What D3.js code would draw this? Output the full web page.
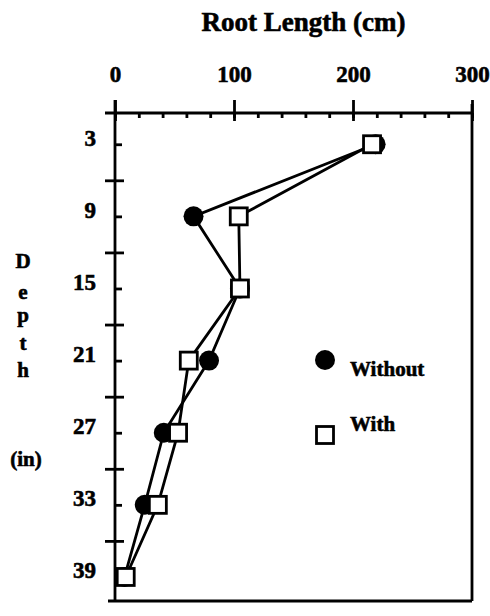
<!DOCTYPE html>
<html>
<head>
<meta charset="utf-8">
<script src="https://cdn.jsdelivr.net/npm/d3@7"></script>
<style>
  body { margin: 0; background: #fff; }
  text { font-family: "Liberation Serif", "Times New Roman", serif; font-weight: bold; fill: #000;
         stroke: #000; stroke-width: 0.6px; }
</style>
</head>
<body>
<svg id="chart" width="490" height="616"></svg>
<script>
// depth (in) and root length (cm)
const depths = [3, 9, 15, 21, 27, 33, 39];
const withoutVals = [219, 66, 105, 79, 41, 25, 8];
const withVals = [216, 104, 105, 62, 53, 36, 9];
const xTicks = [0, 100, 200, 300];
const depthLetters = ['D', 'e', 'p', 't', 'h'];
const legendItems = ['Without', 'With'];

const svg = d3.select('#chart');
const stroke = 2.8;

const x = d3.scaleLinear().domain([0, 300]).range([115, 472]);
const y = d3.scaleLinear().domain([0.4, 41]).range([113, 601]);
const [x0, x1] = x.range();
const [y0, y1] = y.range();

// top axis: majors crossing, minors pointing down
const topUp = d3.axisTop(x).tickValues(xTicks).tickSize(13).tickSizeOuter(0).tickPadding(18);
const topDown = d3.axisBottom(x).tickValues(d3.range(0, 301, 20)).tickSize(5).tickSizeOuter(0).tickFormat('');
const topMajDown = d3.axisBottom(x).tickValues(xTicks).tickSize(8).tickSizeOuter(0).tickFormat('');

const gTop = svg.append('g').attr('transform', `translate(0,${y0})`);
gTop.append('g').call(topUp);
gTop.append('g').call(topDown);
gTop.append('g').call(topMajDown);
gTop.selectAll('text').style('font-size', '23px').attr('dy', '0');

// left axis: labels + minor ticks at label depths, majors crossing
const leftLab = d3.axisLeft(y).tickValues(depths).tickSize(0).tickSizeOuter(0).tickPadding(19);
const leftMinor = d3.axisRight(y).tickValues(depths).tickSize(7).tickSizeOuter(0).tickFormat('');
const majors = d3.range(6, 37, 6);
const leftMajL = d3.axisLeft(y).tickValues(majors).tickSize(10).tickSizeOuter(0).tickFormat('');
const leftMajR = d3.axisRight(y).tickValues(majors).tickSize(9).tickSizeOuter(0).tickFormat('');

const gLeft = svg.append('g').attr('transform', `translate(${x0},0)`);
gLeft.append('g').call(leftLab);
gLeft.append('g').call(leftMinor);
gLeft.append('g').call(leftMajL);
gLeft.append('g').call(leftMajR);
gLeft.selectAll('text').style('font-size', '23px').attr('dy', '1');

svg.selectAll('.domain').remove();
svg.selectAll('.tick line').attr('stroke', '#000').attr('stroke-width', stroke);

// frame
const frame = svg.append('g').attr('stroke', '#000').attr('stroke-width', stroke).attr('fill', 'none');
frame.append('line').attr('x1', x0 - 10).attr('x2', x1).attr('y1', y0).attr('y2', y0);
frame.append('line').attr('x1', x0).attr('x2', x0).attr('y1', y0 - 13).attr('y2', y1);
frame.append('line').attr('x1', x1).attr('x2', x1).attr('y1', y0 - 9).attr('y2', y1);
frame.append('line').attr('x1', x0 - 7).attr('x2', x1).attr('y1', y1).attr('y2', y1);

// titles
svg.append('text').attr('x', (x0 + x1) / 2 + 10).attr('y', 31)
  .attr('text-anchor', 'middle').style('font-size', '27px').text('Root Length (cm)');

const letterY = [268, 299, 322, 350, 377];
svg.selectAll('.depthLetter').data(depthLetters).enter().append('text')
  .attr('class', 'depthLetter')
  .attr('x', 23).attr('y', (d, i) => letterY[i])
  .attr('text-anchor', 'middle').style('font-size', '21px').text(d => d);
svg.append('text').attr('x', 26).attr('y', 466)
  .attr('text-anchor', 'middle').style('font-size', '21px').text('(in)');

// lines
const rowsWithout = depths.map((d, i) => ({depth: d, len: withoutVals[i]}));
const rowsWith = depths.map((d, i) => ({depth: d, len: withVals[i]}));
const line = d3.line().x(d => x(d.len)).y(d => y(d.depth));

[rowsWithout, rowsWith].forEach(rows => {
  svg.append('path').datum(rows).attr('d', line)
    .attr('fill', 'none').attr('stroke', '#000').attr('stroke-width', stroke);
});

svg.selectAll('.dotWithout').data(rowsWithout).enter().append('circle')
  .attr('class', 'dotWithout')
  .attr('cx', d => x(d.len)).attr('cy', d => y(d.depth)).attr('r', 10)
  .attr('fill', '#000');

const sq = 17;
svg.selectAll('.dotWith').data(rowsWith).enter().append('rect')
  .attr('class', 'dotWith')
  .attr('x', d => x(d.len) - sq / 2).attr('y', d => y(d.depth) - sq / 2)
  .attr('width', sq).attr('height', sq)
  .attr('fill', '#fff').attr('stroke', '#000').attr('stroke-width', stroke);

// legend
const lg = svg.append('g');
lg.append('circle').attr('cx', 325).attr('cy', 360).attr('r', 10).attr('fill', '#000');
lg.append('text').attr('x', 350).attr('y', 376).style('font-size', '21px').text(legendItems[0]);
lg.append('rect').attr('x', 325 - sq / 2).attr('y', 435 - sq / 2).attr('width', sq).attr('height', sq)
  .attr('fill', '#fff').attr('stroke', '#000').attr('stroke-width', stroke);
lg.append('text').attr('x', 350).attr('y', 431).style('font-size', '21px').text(legendItems[1]);
</script>
</body>
</html>
